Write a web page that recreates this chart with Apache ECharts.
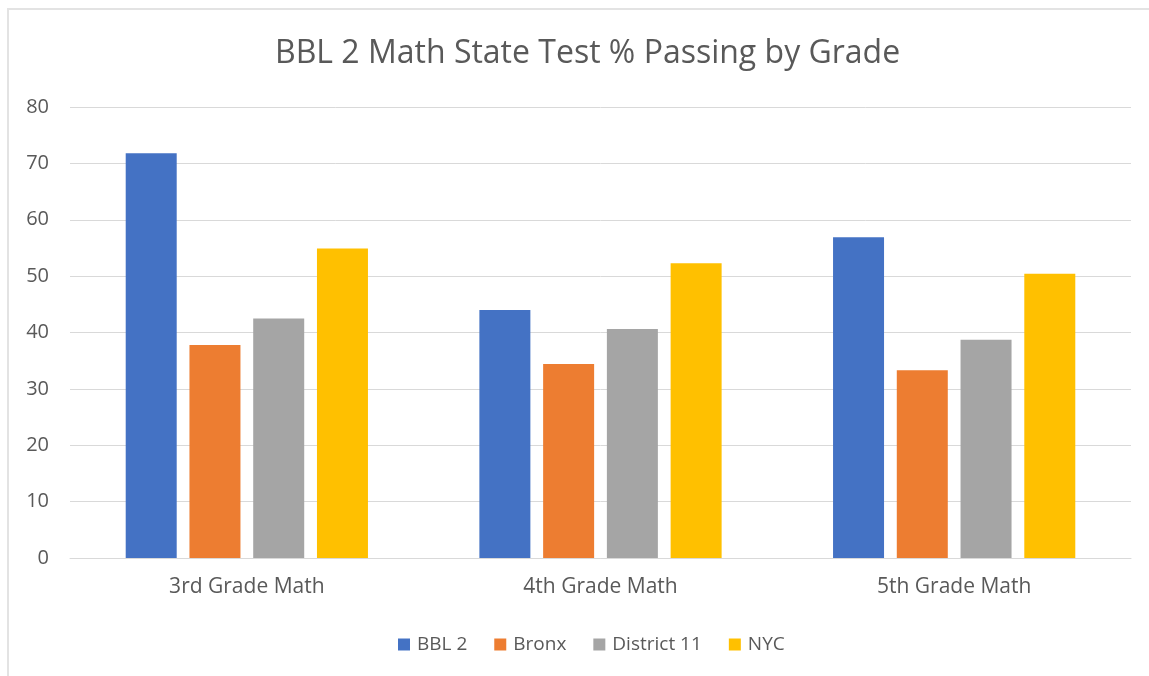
<!DOCTYPE html>
<html><head><meta charset="utf-8">
<script src="https://cdn.jsdelivr.net/npm/echarts@6/dist/echarts.min.js"></script>
<style>
html,body{margin:0;padding:0;background:#fff;}
#frame{position:absolute;left:7px;top:8px;width:1160px;height:690px;border:2px solid #e3e3e3;box-sizing:border-box;}
#chart{position:absolute;left:0;top:0;width:1149px;height:676px;}
</style></head>
<body>
<div id="frame"></div>
<div id="chart"></div>
<script>
const categories = ['3rd Grade Math', '4th Grade Math', '5th Grade Math'];
const seriesNames = ['BBL 2', 'Bronx', 'District 11', 'NYC'];
const bbl2 = [71.8, 44.0, 56.9];
const bronx = [37.8, 34.4, 33.3];
const district11 = [42.5, 40.6, 38.7];
const nyc = [54.9, 52.3, 50.4];
const colors = ['#4472C4', '#ED7D31', '#A5A5A5', '#FFC000'];
const yTicks = [0, 10, 20, 30, 40, 50, 60, 70, 80];

const font = '"Open Sans", "Noto Sans", sans-serif';
const allData = [bbl2, bronx, district11, nyc];
const chart = echarts.init(document.getElementById('chart'));
chart.setOption({
  animation: false,
  title: {
    text: 'BBL 2 Math State Test % Passing by Grade',
    left: 270, top: 33,
    textStyle: {fontFamily: font, fontSize: 32, fontWeight: 'normal', color: '#595959'}
  },
  grid: {left: 70, right: 18, top: 107, bottom: 118},
  legend: {
    data: seriesNames, top: 630, left: 393,
    icon: 'rect', itemWidth: 12, itemHeight: 12, itemGap: 27,
    textStyle: {fontFamily: font, fontSize: 19, color: '#595959', padding: [0, 0, 0, 2]}
  },
  xAxis: {
    type: 'category', data: categories,
    axisLine: {lineStyle: {color: '#d9d9d9'}},
    axisTick: {show: false},
    axisLabel: {fontFamily: font, fontSize: 21, color: '#595959', margin: 19}
  },
  yAxis: {
    type: 'value', min: yTicks[0], max: yTicks[yTicks.length - 1], interval: 10,
    axisLine: {show: false}, axisTick: {show: false},
    splitLine: {lineStyle: {color: '#d9d9d9', width: 1}},
    axisLabel: {fontFamily: font, fontSize: 20, color: '#595959', margin: 21}
  },
  series: seriesNames.map((n, i) => ({
    name: n, type: 'bar', data: allData[i],
    barWidth: 51, barGap: '25%',
    itemStyle: {color: colors[i]}
  }))
});
</script>
</body></html>
